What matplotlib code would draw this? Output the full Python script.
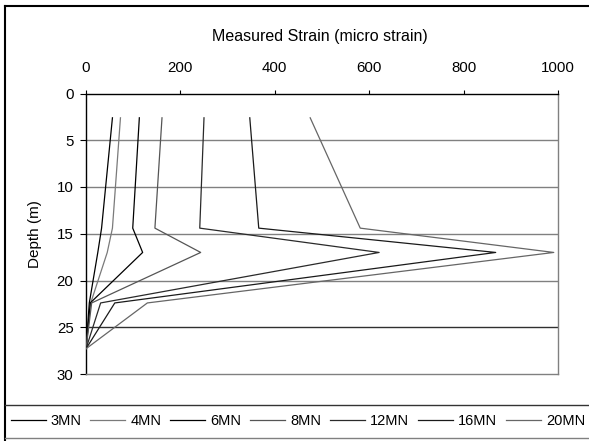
import matplotlib
matplotlib.use("Agg")
import matplotlib.pyplot as plt
from matplotlib.lines import Line2D

plt.rcParams['font.family'] = ['Liberation Sans', 'DejaVu Sans']

depths = [2.6, 14.4, 17.0, 22.4, 27.3]
series_names = ["3MN", "4MN", "6MN", "8MN", "12MN", "16MN", "20MN"]
strain_3MN = [56, 33, 25, 7, 0]
strain_4MN = [73, 56, 45, 10, 0]
strain_6MN = [113, 99, 120, 9, 0]
strain_8MN = [161, 146, 243, 12, 0]
strain_12MN = [250, 241, 621, 31, 0]
strain_16MN = [347, 366, 868, 61, 0]
strain_20MN = [475, 581, 991, 130, 0]
all_series = [strain_3MN, strain_4MN, strain_6MN, strain_8MN,
              strain_12MN, strain_16MN, strain_20MN]
x_ticks = [0, 200, 400, 600, 800, 1000]
y_ticks = [0, 5, 10, 15, 20, 25, 30]

colors = ['#000000', '#7a7a7a', '#000000', '#555555', '#2a2a2a', '#1a1a1a', '#666666']

W, H = 589, 441
fig = plt.figure(figsize=(W / 100, H / 100), dpi=100)
L, R, T, B = 86, 558, 93.5, 374
ax = fig.add_axes([L / W, 1 - B / H, (R - L) / W, (B - T) / H])

# gridlines
grid_colors = {5: '#808080', 10: '#808080', 15: '#808080', 20: '#808080', 25: '#303030'}
for yv in y_ticks[1:-1]:
    ax.axhline(yv, color=grid_colors[yv], lw=1.0, zorder=1)

for name, vals, c in zip(series_names, all_series, colors):
    ax.plot(vals, depths, color=c, lw=0.9, label=name, zorder=3)

ax.set_xlim(0, 1000)
ax.set_ylim(30, 0)
ax.set_xticks(x_ticks)
ax.set_yticks(y_ticks)
ax.xaxis.tick_top()
ax.tick_params(axis='x', direction='out', length=3, width=0.8, pad=10.5, labelsize=10.8, colors='black')
ax.tick_params(axis='y', direction='out', length=4, width=0.8, pad=5, labelsize=10.8)

for side in ['top', 'left']:
    ax.spines[side].set_color('black')
    ax.spines[side].set_linewidth(1.0)
for side in ['right', 'bottom']:
    ax.spines[side].set_color('#808080')
    ax.spines[side].set_linewidth(1.0)

ax.set_ylabel("Depth (m)", fontsize=11)
ax.yaxis.set_label_coords((42 - L) / (R - L), 0.5)
fig.text(320 / W, 1 - 36 / H, "Measured Strain (micro strain)", ha='center', va='center', fontsize=11.5)

# outer frame and legend box
fig.add_artist(Line2D([4.5 / W, 4.5 / W], [0, 1 - 5.5 / H], transform=fig.transFigure, color='black', lw=1.5))
fig.add_artist(Line2D([4.5 / W, 1], [1 - 5.5 / H, 1 - 5.5 / H], transform=fig.transFigure, color='black', lw=1.5))
fig.add_artist(Line2D([4.5 / W, 1], [1 - 405 / H, 1 - 405 / H], transform=fig.transFigure, color='#333333', lw=1.0))
fig.add_artist(Line2D([4.5 / W, 1], [1 - 437.5 / H, 1 - 437.5 / H], transform=fig.transFigure, color='#808080', lw=1.0))

handles, labels = ax.get_legend_handles_labels()
fig.legend(handles, labels, ncol=7, loc='center', bbox_to_anchor=(298 / W, 1 - 421 / H),
           frameon=False, fontsize=10.5, handlelength=2.4, handletextpad=0.35,
           columnspacing=0.6, borderpad=0, borderaxespad=0)

fig.savefig("out.png", dpi=100)
